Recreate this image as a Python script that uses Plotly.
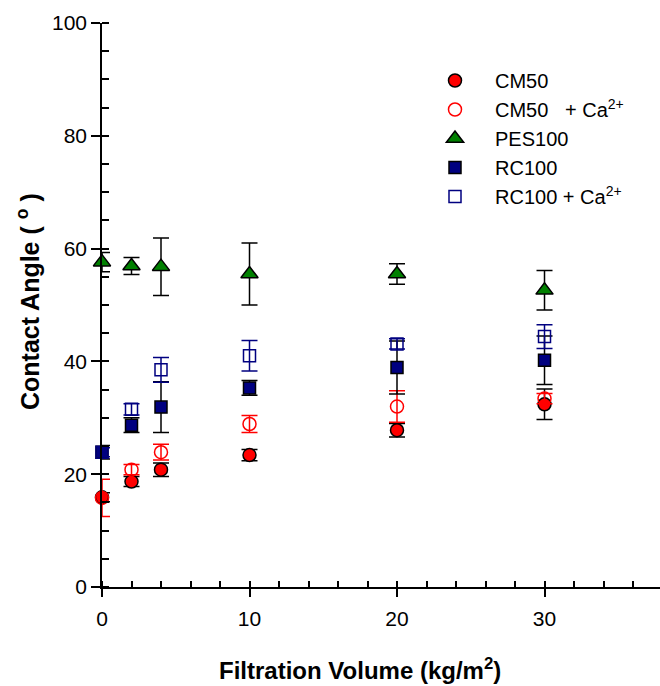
import plotly.graph_objects as go

# ---- data ----
volume = [0, 2, 4, 10, 20, 30]

cm50 = [15.9, 18.7, 20.8, 23.4, 27.8, 32.4]
cm50_err = [0.8, 0.9, 1.2, 1.0, 1.2, 2.7]

cm50_ca = [15.8, 20.8, 23.9, 28.9, 32.0, 33.4]
cm50_ca_err = [3.3, 0.9, 1.4, 1.5, 2.8, 0.9]

pes100 = [57.6, 56.9, 56.8, 55.5, 55.5, 52.6]
pes100_err = [1.7, 1.5, 5.1, 5.5, 1.8, 3.5]

rc100 = [23.9, 28.7, 31.9, 35.3, 38.9, 40.2]
rc100_err = [1.2, 1.3, 4.5, 1.3, 4.7, 4.3]

rc100_ca = [23.9, 31.5, 38.5, 41.0, 43.1, 44.4]
rc100_ca_err = [0.8, 1.0, 2.2, 2.7, 0.9, 2.1]

names = ["CM50", "CM50\u00a0\u00a0 + Ca<sup>2+</sup>", "PES100", "RC100",
         "RC100 + Ca<sup>2+</sup>"]
x_ticks = [0, 10, 20, 30]
y_ticks = [0, 20, 40, 60, 80, 100]

FONT = "Arial, Liberation Sans, sans-serif"
RED = "#ff0000"
GREEN = "#008000"
NAVY = "#000080"

fig = go.Figure()


def add(y, err, name, symbol, size, fill, line_color, err_color):
    fig.add_trace(go.Scatter(
        x=volume, y=y, name=name, mode="markers", cliponaxis=False,
        marker=dict(symbol=symbol, size=size, color=fill,
                    line=dict(color=line_color, width=1.5)),
        error_y=dict(type="data", array=err, visible=True, color=err_color,
                     thickness=1.5, width=8),
    ))


add(cm50, cm50_err, names[0], "circle", 13, RED, "black", "black")
add(cm50_ca, cm50_ca_err, names[1], "circle-open", 13, RED, RED, RED)
add(pes100, pes100_err, names[2], "triangle-up", 15, GREEN, "black", "black")
add(rc100, rc100_err, names[3], "square", 12, NAVY, "black", "black")
add(rc100_ca, rc100_ca_err, names[4], "square-open", 12, NAVY, NAVY, NAVY)

L, T, W, H = 102, 23, 660, 686
B = 99
pw, ph = W - L, H - T - B

xr = [0, 37.83]
yr = [0, 100]

common = dict(showgrid=False, zeroline=False, color="black")

fig.update_layout(
    width=W, height=H,
    margin=dict(l=L, r=0, t=T, b=B, pad=0),
    plot_bgcolor="white", paper_bgcolor="white",
    font=dict(family=FONT, color="black"),
    showlegend=True,
    legend=dict(x=(415 - L) / pw, y=(587 - 61) / ph, xanchor="left", yanchor="top",
                bgcolor="rgba(0,0,0,0)", font=dict(size=20, family=FONT),
                itemwidth=70, tracegroupgap=0),
    xaxis=dict(range=xr, tickvals=x_ticks, ticktext=[str(v) for v in x_ticks],
               showline=True, linecolor="black", linewidth=1.5,
               ticks="outside", ticklen=8, tickwidth=1.5, tickcolor="black",
               tickfont=dict(size=21, family=FONT), ticklabelstandoff=4,
               minor=dict(ticks="inside", dtick=2, tick0=0, ticklen=6,
                          tickwidth=1.5, tickcolor="black"),
               **common),
    xaxis2=dict(range=xr, overlaying="x", anchor="y", side="bottom",
                tickvals=x_ticks, showticklabels=False, showline=False,
                ticks="inside", ticklen=8, tickwidth=1.5, tickcolor="black",
                **common),
    xaxis3=dict(range=xr, overlaying="x", anchor="y", side="top",
                tickvals=x_ticks, showticklabels=False, showline=True,
                linecolor="black", linewidth=1.5,
                ticks="inside", ticklen=7, tickwidth=1.5, tickcolor="black",
                minor=dict(ticks="inside", dtick=2, tick0=0, ticklen=6,
                           tickwidth=1.5, tickcolor="black"),
                **common),
    yaxis=dict(range=yr, tickvals=y_ticks, ticktext=[str(v) for v in y_ticks],
               showline=True, linecolor="black", linewidth=1.5,
               ticks="outside", ticklen=9, tickwidth=1.5, tickcolor="black",
               tickfont=dict(size=21, family=FONT),
               minor=dict(ticks="inside", dtick=5, tick0=0, ticklen=7,
                          tickwidth=1.5, tickcolor="black"),
               **common),
    yaxis2=dict(range=yr, overlaying="y", anchor="x", side="left",
                tickvals=y_ticks, showticklabels=False, showline=False,
                ticks="inside", ticklen=7, tickwidth=1.5, tickcolor="black",
                **common),
    yaxis3=dict(range=yr, overlaying="y", anchor="x", side="right",
                tickvals=y_ticks, showticklabels=False, showline=False,
                ticks="inside", ticklen=4, tickwidth=1.5, tickcolor="black",
                **common),
    annotations=[
        dict(text="Filtration Volume (kg/m<sup>2</sup>)", xref="paper", yref="paper",
             x=(360 - L) / pw, y=(587 - 669) / ph, xanchor="center", yanchor="middle",
             showarrow=False, font=dict(size=24, family=FONT, weight="bold")),
        dict(text="Contact Angle ( <sup>o</sup> )", xref="paper", yref="paper",
             x=(28 - L) / pw, y=(587 - 302) / ph, xanchor="center", yanchor="middle",
             textangle=-90, showarrow=False,
             font=dict(size=25, family=FONT, weight="bold")),
    ],
)

fig.write_html("out.html")
